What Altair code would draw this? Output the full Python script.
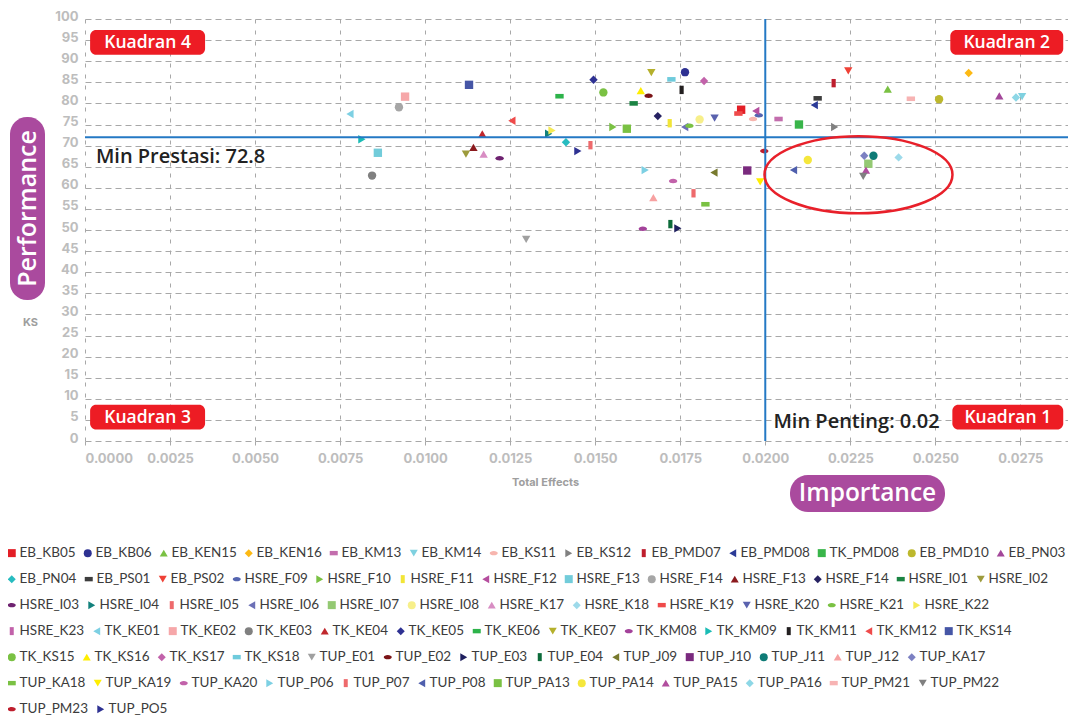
import altair as alt
import pandas as pd

# ---------------- data ----------------
names = [
    "EB_KB05", "EB_KB06", "EB_KEN15", "EB_KEN16", "EB_KM13", "EB_KM14", "EB_KS11", "EB_KS12",
    "EB_PMD07", "EB_PMD08", "TK_PMD08", "EB_PMD10", "EB_PN03",
    "EB_PN04", "EB_PS01", "EB_PS02", "HSRE_F09", "HSRE_F10", "HSRE_F11", "HSRE_F12", "HSRE_F13",
    "HSRE_F14", "HSRE_F13#2", "HSRE_F14#2", "HSRE_I01", "HSRE_I02",
    "HSRE_I03", "HSRE_I04", "HSRE_I05", "HSRE_I06", "HSRE_I07", "HSRE_I08", "HSRE_K17", "HSRE_K18",
    "HSRE_K19", "HSRE_K20", "HSRE_K21", "HSRE_K22",
    "HSRE_K23", "TK_KE01", "TK_KE02", "TK_KE03", "TK_KE04", "TK_KE05", "TK_KE06", "TK_KE07",
    "TK_KM08", "TK_KM09", "TK_KM11", "TK_KM12", "TK_KS14",
    "TK_KS15", "TK_KS16", "TK_KS17", "TK_KS18", "TUP_E01", "TUP_E02", "TUP_E03", "TUP_E04",
    "TUP_J09", "TUP_J10", "TUP_J11", "TUP_J12", "TUP_KA17",
    "TUP_KA18", "TUP_KA19", "TUP_KA20", "TUP_P06", "TUP_P07", "TUP_P08", "TUP_PA13", "TUP_PA14",
    "TUP_PA15", "TUP_PA16", "TUP_PM21", "TUP_PM22",
    "TUP_PM23", "TUP_PO5",
]

total_effects = [
    0.01929, 0.01764, 0.02360, 0.02598, 0.02039, 0.02755, 0.01964, 0.02204,
    0.02201, 0.02144, 0.02099, 0.02511, 0.02688,
    0.01414, 0.02154, 0.02244, 0.01981, 0.01552, 0.01719, 0.01972, 0.00861,
    0.00923, 0.01142, 0.01684, 0.01613, 0.01120,
    0.01219, 0.01363, 0.01486, 0.01763, 0.02303, 0.01807, 0.01172, 0.02392,
    0.01921, 0.01851, 0.01777, 0.01373,
    None, 0.00779, 0.00941, 0.00844, 0.01168, 0.01495, 0.01395, 0.01665,
    0.01640, 0.00814, 0.01754, 0.01255, 0.01129,
    0.01524, 0.01634, 0.01820, 0.01724, 0.01297, 0.01657, 0.01743, 0.01721,
    0.01849, 0.01947, 0.02318, 0.01671, 0.02291,
    0.01824, 0.01985, 0.01729, 0.01647, 0.01789, 0.02083, 0.01593, 0.02125,
    0.02296, 0.02737, 0.02428, 0.02288,
    0.01997, 0.01449,
]

ks = [
    78.5, 87.4, 83.4, 87.2, 76.3, 81.6, 76.3, 74.4,
    84.8, 79.6, 75.0, 81.0, 81.8,
    70.8, 81.2, 87.7, 77.2, 74.4, 75.3, 78.2, 68.3,
    79.1, 69.6, 77.0, 80.0, 68.0,
    67.0, 72.8, 70.1, 74.4, 65.7, 76.2, 68.0, 67.2,
    77.6, 76.5, 74.7, 73.6,
    None, 77.5, 81.6, 62.9, 72.8, 85.6, 81.7, 87.3,
    50.3, 71.5, 83.2, 75.9, 84.4,
    82.6, 83.0, 85.3, 85.7, 47.8, 81.8, 50.4, 51.4,
    63.6, 64.1, 67.6, 57.7, 67.6,
    56.1, 61.4, 61.6, 64.2, 58.7, 64.2, 74.0, 66.6,
    64.2, 81.4, 81.1, 62.7,
    68.7, 68.7,
]

x_ticks = [0.0, 0.0025, 0.005, 0.0075, 0.01, 0.0125, 0.015, 0.0175, 0.02, 0.0225, 0.025, 0.0275]
y_ticks = list(range(0, 101, 5))

min_importance = 0.02
min_performance_line = 72.0
min_performance_label = "Min Prestasi: 72.8"
min_importance_label = "Min Penting: 0.02"

quad_names = ["Kuadran 4", "Kuadran 2", "Kuadran 3", "Kuadran 1"]
quad_x1 = [0.00015, 0.02544, 0.00015, 0.02550]
quad_x2 = [0.00353, 0.02876, 0.00353, 0.02876]
quad_y1 = [91.5, 91.5, 2.7, 2.7]
quad_y2 = [97.4, 97.4, 8.6, 8.6]

ellipse_center = (0.02274, 63.1)

# ---------------- style ----------------
colors = [
    "#E31E26", "#2E3192", "#7AC143", "#FDB913", "#C36DAD", "#7FD1E0", "#F7B5AE", "#808080",
    "#BE1E2D", "#2B3A97", "#39B54A", "#BDB82D", "#A3479A",
    "#27BCC0", "#3D3D3D", "#EF4136", "#5565B0", "#7AC143", "#F2E536", "#B54E9E", "#72CCDA",
    "#A6A6A6", "#8B1A1E", "#262262", "#1B8443", "#9D9B3C",
    "#6E2270", "#12817C", "#EE6A6C", "#6C70B6", "#94C973", "#F7EF8A", "#D88DC3", "#9DDAEA",
    "#EF4A4A", "#5A62AE", "#7AC143", "#F5EA55",
    "#C262AA", "#7DD0E3", "#F6A7A9", "#808080", "#C0272D", "#2E3192", "#2DB34A", "#B5B02C",
    "#A3429A", "#1ABCB5", "#231F20", "#EF4B4B", "#4656A6",
    "#7AC143", "#FFEE00", "#C262AA", "#6FCBDC", "#A0A0A0", "#7B1417", "#1E1F5E", "#0D6B3A",
    "#787A2E", "#7A2A7E", "#0E7B76", "#F7A1A1", "#7C80C2",
    "#7AC143", "#FFEE00", "#C262AA", "#7DD0E3", "#EE6A6C", "#4F5FAD", "#7AC143", "#F5E73C",
    "#B14E9E", "#8DD7E6", "#F7B3B3", "#808080",
    "#BE1E2D", "#2E3192",
]

HRECT = "M-1,-0.55H1V0.55H-1Z"
VRECT = "M-0.5,-1H0.5V1H-0.5Z"
ELLIPSE = "M-1,0A1,0.55 0 1,1 1,0A1,0.55 0 1,1 -1,0Z"
shape_cycle = ["square", "circle", "triangle-up", "diamond", HRECT,
               "triangle-down", ELLIPSE, "triangle-right", VRECT, "triangle-left"]
shapes = [shape_cycle[i % 10] for i in range(len(names))]

# number of legend entries on each legend row (layout of the bottom legend)
legend_row_sizes = [13, 13, 12, 13, 13, 12, 2]
LEGEND_Y0 = 527
LEGEND_PITCH = 26

AXIS_GRAY = "#BDBDBD"
FONT = "Open Sans"
PURPLE = "#AA4A9E"
RED = "#ED1C24"
BLUE = "#2479C4"

xscale = alt.Scale(domain=[0, 0.0289], nice=False, zero=False)
yscale = alt.Scale(domain=[0, 100], nice=False)

x_axis = alt.Axis(
    values=x_ticks, format=".4f", labelColor=AXIS_GRAY, labelFont="Inter",
    labelFontWeight="bold", labelFontSize=13, labelPadding=5,
    grid=True, gridDash=[4, 7], gridColor="#A8A8A8", gridWidth=1,
    domain=False, ticks=True, tickColor="#A8A8A8", tickSize=6, tickDash=[4, 2],
    title="Total Effects", titleFont="Inter", titleFontSize=11, titleFontWeight="bold",
    titleColor="#9E9E9E", titleX=460, titleY=41, titleBaseline="middle", titleAlign="center",
)
y_axis = alt.Axis(
    values=y_ticks, labelColor=AXIS_GRAY, labelFont="Inter", labelFontWeight="bold",
    labelFontSize=13, labelPadding=7, labelOffset=-3,
    grid=True, gridDash=[6, 4], gridColor="#A8A8A8", gridWidth=1,
    domain=False, ticks=False,
    title="KS", titleAngle=0, titleFont="Inter", titleFontSize=11, titleFontWeight="bold",
    titleColor="#9E9E9E", titleX=-55, titleY=303, titleBaseline="middle", titleAlign="center",
)

point_layers = []
start = 0
for r, n in enumerate(legend_row_sizes):
    idx = list(range(start, start + n))
    start += n
    row_df = pd.DataFrame({
        "name": [names[i] for i in idx],
        "x": [total_effects[i] for i in idx],
        "y": [ks[i] for i in idx],
    })
    leg = alt.Legend(
        orient="none", legendX=-80, legendY=LEGEND_Y0 + r * LEGEND_PITCH,
        direction="horizontal", columns=n, title=None, symbolSize=64, padding=0,
        symbolStrokeWidth=0, labelFont="Lato", labelFontSize=13.5, labelColor="#3C3C3C",
        labelOffset=1, columnPadding=5, labelLimit=0,
        labelExpr="split(datum.label,'#')[0]",
    )
    dom = [names[i] for i in idx]
    layer = alt.Chart(row_df).mark_point(filled=True, size=70, opacity=1, strokeWidth=0).encode(
        x=alt.X("x:Q", scale=xscale, axis=x_axis),
        y=alt.Y("y:Q", scale=yscale, axis=y_axis),
        color=alt.Color("name:N", scale=alt.Scale(domain=dom, range=[colors[i] for i in idx]), legend=leg),
        shape=alt.Shape("name:N", scale=alt.Scale(domain=dom, range=[shapes[i] for i in idx]), legend=leg),
    )
    point_layers.append(layer)

points = alt.layer(*point_layers).resolve_scale(color="independent", shape="independent")

one = pd.DataFrame({"a": [0]})

hline = alt.Chart(pd.DataFrame({"y": [min_performance_line]})).mark_rule(
    color=BLUE, strokeWidth=2).encode(y=alt.Y("y:Q", scale=yscale, axis=y_axis))
vline = alt.Chart(pd.DataFrame({"x": [min_importance]})).mark_rule(
    color=BLUE, strokeWidth=2).encode(x=alt.X("x:Q", scale=xscale, axis=x_axis))

ell_df = pd.DataFrame({"x": [ellipse_center[0]], "y": [ellipse_center[1]]})
ellipse = alt.Chart(ell_df).mark_point(
    shape="M-1,0A1,0.41 0 1,1 1,0A1,0.41 0 1,1 -1,0Z", size=35344, filled=False,
    stroke="#E8202A", strokeWidth=2.5, opacity=1,
).encode(x=alt.X("x:Q", scale=xscale, axis=x_axis), y=alt.Y("y:Q", scale=yscale, axis=y_axis))

lbl_df = pd.DataFrame({
    "x": [0.00032, 0.02024], "y": [67.3, 4.6],
    "t": [min_performance_label, min_importance_label],
})
min_labels = alt.Chart(lbl_df).mark_text(
    align="left", baseline="middle", font=FONT, fontSize=20, fontWeight=600, color="#222222",
).encode(x=alt.X("x:Q", scale=xscale, axis=x_axis), y=alt.Y("y:Q", scale=yscale, axis=y_axis),
         text="t:N")

qdf = pd.DataFrame({"t": quad_names, "x1": quad_x1, "x2": quad_x2, "y1": quad_y1, "y2": quad_y2})
qdf["xm"] = (qdf["x1"] + qdf["x2"]) / 2
qdf["ym"] = (qdf["y1"] + qdf["y2"]) / 2
quad_box = alt.Chart(qdf).mark_rect(color=RED, cornerRadius=6).encode(
    x=alt.X("x1:Q", scale=xscale, axis=x_axis), x2="x2:Q",
    y=alt.Y("y1:Q", scale=yscale, axis=y_axis), y2="y2:Q")
quad_txt = alt.Chart(qdf).mark_text(
    font=FONT, fontSize=17.5, fontWeight=600, color="white", baseline="middle", dy=0.5,
).encode(x=alt.X("xm:Q", scale=xscale, axis=x_axis), y=alt.Y("ym:Q", scale=yscale, axis=y_axis),
         text="t:N")

perf_pill = alt.Chart(one).mark_rect(color=PURPLE, cornerRadius=17).encode(
    x=alt.value(-75), x2=alt.value(-40), y=alt.value(98), y2=alt.value(281))
perf_txt = alt.Chart(one).mark_text(
    text="Performance", angle=270, font=FONT, fontSize=25, fontWeight=600, color="white",
    baseline="middle", align="center",
).encode(x=alt.value(-57.5), y=alt.value(189.5))

imp_pill = alt.Chart(one).mark_rect(color=PURPLE, cornerRadius=18).encode(
    x=alt.value(705), x2=alt.value(860), y=alt.value(456), y2=alt.value(493))
imp_txt = alt.Chart(one).mark_text(
    text="Importance", font=FONT, fontSize=24.5, fontWeight=600, color="white",
    baseline="middle", align="center",
).encode(x=alt.value(782.5), y=alt.value(474.5))

chart = alt.layer(
    points, hline, vline, ellipse, min_labels, quad_box, quad_txt,
    perf_pill, perf_txt, imp_pill, imp_txt,
).resolve_scale(color="independent", shape="independent").properties(
    width=983, height=422,
    autosize=alt.AutoSizeParams(type="none"),
    padding={"left": 77, "top": 11, "right": 0, "bottom": 276},
).configure_view(stroke=None)

chart.save("out.html", embed_options={"renderer": "svg", "actions": False})
